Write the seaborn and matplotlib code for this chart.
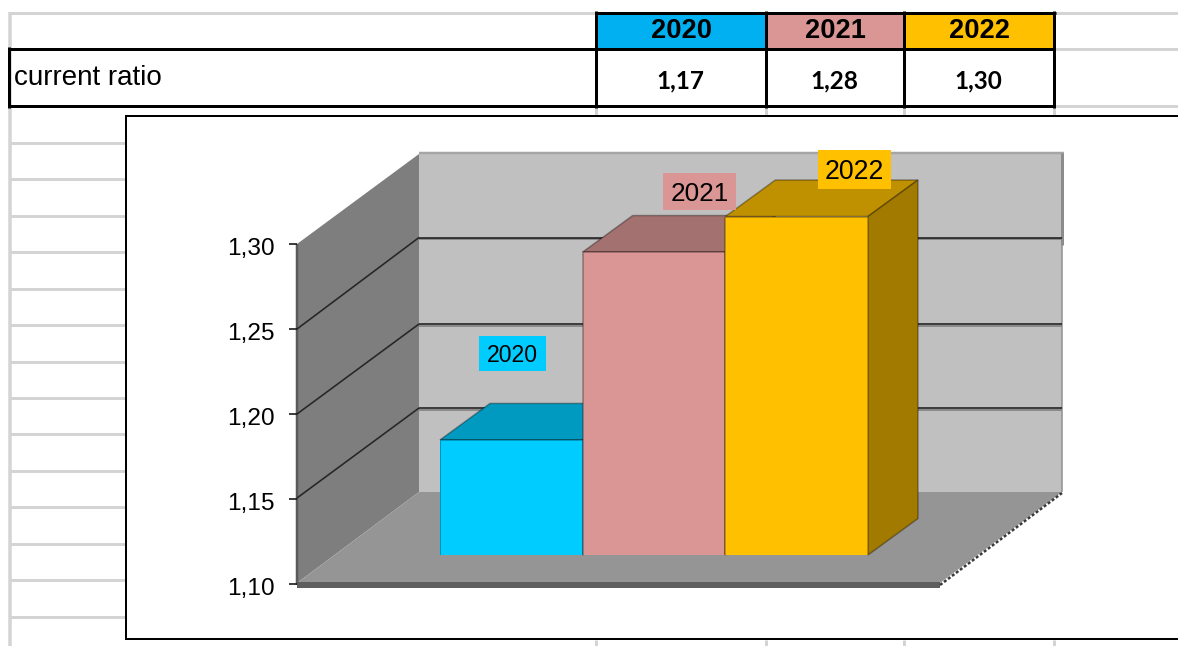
import matplotlib
matplotlib.use("Agg")
import matplotlib.pyplot as plt
import pandas as pd
import seaborn as sns
from matplotlib.patches import Polygon, Rectangle
from matplotlib.ticker import FuncFormatter
from matplotlib.transforms import ScaledTranslation

years = ["2020", "2021", "2022"]
ratios = [1.168, 1.279, 1.30]
row_label = "current ratio"
y_ticks = [1.10, 1.15, 1.20, 1.25, 1.30]
header_colors = ["#00B0F0", "#DA9694", "#FFC000"]
bar_colors = ["#00CCFF", "#D99694", "#FFC000"]
top_colors = ["#0099BF", "#A37170", "#BF9000"]
side_colors = ["#007A99", "#825A59", "#A27A00"]
tag_colors = ["#00CCFF", "#D99694", "#FFC000"]

W, H = 1178, 646
sns.set_theme(style="white")
plt.rcParams["font.family"] = ["Liberation Sans", "DejaVu Sans"]
fig = plt.figure(figsize=(W / 100, H / 100), dpi=100, facecolor="white")


def axes_px(x0, y0, x1, y1, **kw):
    """Axes from pixel box (top-left origin)."""
    return fig.add_axes([x0 / W, 1 - y1 / H, (x1 - x0) / W, (y1 - y0) / H], **kw)


def px(v):
    return v * 0.72


# ---------- background layer: sheet, table, chart frame, walls ----------
bg = axes_px(0, 0, W, H, zorder=0)
bg.set_xlim(0, W)
bg.set_ylim(H, 0)
bg.axis("off")
GRAY = "#D4D4D4"


def line(xs, ys, c, w, **kw):
    bg.plot(xs, ys, color=c, lw=px(w), solid_capstyle="butt", **kw)


line([9.5, 9.5], [12, H], GRAY, 3.5)
line([9, W], [12.5, 12.5], GRAY, 3)
for y in (48.5, 106):
    line([1054, W], [y, y], GRAY, 3)
for y in [143, 179, 216, 252, 289, 325, 362, 398, 434, 471, 507, 544, 580, 617]:
    line([9, 126], [y, y], GRAY, 3)
for x in (596, 766, 904, 1054):
    line([x, x], [106, 116], GRAY, 3)
    line([x, x], [640, H], GRAY, 3)

# table
col_x = [596, 766, 904, 1054]
for i, year in enumerate(years):
    bg.add_patch(Rectangle((col_x[i], 12.5), col_x[i + 1] - col_x[i], 36,
                           facecolor=header_colors[i], edgecolor="none"))
BK = "#000000"
line([8, 1055], [48.5, 48.5], BK, 3)
line([8, 1055], [106, 106], BK, 3)
line([596, 1055.5], [12.5, 12.5], BK, 3)
line([8.5, 8.5], [47, 107.5], BK, 3)
for x in col_x:
    line([x, x], [11, 107.5], BK, 3)
bg.text(14.5, 78, row_label, fontsize=20, color="black", ha="left", va="center")
for i, year in enumerate(years):
    cx = (col_x[i] + col_x[i + 1]) / 2
    bg.text(cx, 30.5, year, fontsize=19.6, fontweight="bold", color="black",
            ha="center", va="center")
    bg.text(cx - 0.5, 81, f"{ratios[i]:.2f}".replace(".", ","), fontsize=17.5,
            fontweight="bold", family=["Lato", "DejaVu Sans"], color="black",
            ha="center", va="center")

# chart frame
bg.add_patch(Rectangle((126, 116), W - 126 + 5, 523, facecolor="white",
                       edgecolor="black", lw=px(2), zorder=2))

# walls
z = 3
bg.add_patch(Polygon([(419, 154), (1062, 154), (1062, 492), (419, 492)],
                     facecolor="#C0C0C0", edgecolor="none", zorder=z))
bg.add_patch(Polygon([(297, 244), (419, 154), (419, 492), (297, 583)],
                     facecolor="#7E7E7E", edgecolor="none", zorder=z))
bg.add_patch(Polygon([(297, 583), (419, 492), (1062, 492), (940, 583)],
                     facecolor="#959595", edgecolor="none", zorder=z))
bg.add_patch(Rectangle((297, 582), 643, 5.5, facecolor="#5F5F5F", edgecolor="none", zorder=z))
line([419, 1064], [153, 153], "#A6A6A6", 2.5, zorder=z)
line([1062, 1062], [153, 245], "#8C8C8C", 3, zorder=z)
line([1062, 1062], [245, 492], "#8F8F8F", 1.5, zorder=z)
line([940, 1062], [585, 493], "#3A3A3A", 2.5, zorder=z, linestyle=(0, (1.2, 0.8)))
line([297, 297], [244, 585], "#5A5A5A", 2.5, zorder=z)

# wall gridlines, following the depth of the chart box
for y_front, y_back in zip([329, 414, 498], [237.5, 324, 408]):
    line([297, 419], [y_front, y_back], "#262626", 1.6, zorder=z + 0.1)
    line([419, 1062], [y_back + 1.5, y_back + 1.5], "#8A8A8A", 2, zorder=z + 0.1)
    line([419, 1062], [y_back, y_back], "#1E1E1E", 1.6, zorder=z + 0.2)

# ---------- value axis ----------
ax_val = axes_px(297, 243.7, 300, 583.7, zorder=1)
ax_val.patch.set_alpha(0)
ax_val.set_ylim(1.10, 1.30)
ax_val.set_yticks(y_ticks)
ax_val.set_xticks([])
ax_val.yaxis.set_major_formatter(FuncFormatter(lambda v, _: f"{v:.2f}".replace(".", ",")))
ax_val.tick_params(axis="y", left=True, length=px(8), width=px(1.6), color="#111111",
                   pad=px(14), labelsize=17.6, labelcolor="black")
for s in ax_val.spines.values():
    s.set_visible(False)
shift = ScaledTranslation(0, -3 / 100, fig.dpi_scale_trans)
for lab in ax_val.get_yticklabels():
    lab.set_transform(lab.get_transform() + shift)

# ---------- bars ----------
ax_bar = axes_px(440, 216.5, 868, 555, zorder=2)
ax_bar.patch.set_alpha(0)
df = pd.DataFrame({"year": years, "ratio": ratios})
sns.barplot(data=df, x="year", y="ratio", hue="year", order=years, hue_order=years,
            palette=bar_colors, saturation=1, width=1, legend=False, ax=ax_bar,
            edgecolor="#00000055", linewidth=px(1.5), zorder=5)
ax_bar.set_xlim(-0.5, 2.5)
ax_bar.set_ylim(1.10, 1.30)
ax_bar.axis("off")

# depth of each bar, derived from the bar itself
dx = 50 / (428 / 3)
dy = 36.5 / (338.5 / 0.2)
base = 1.10
for i, patch in enumerate(ax_bar.patches[:3]):
    x0 = patch.get_x()
    x1 = x0 + patch.get_width()
    top = patch.get_height()
    edge = "#00000055"
    ax_bar.add_patch(Polygon([(x0, top), (x1, top), (x1 + dx, top + dy), (x0 + dx, top + dy)],
                             facecolor=top_colors[i], edgecolor=edge, lw=px(1.5),
                             clip_on=False, zorder=1 + i))
    ax_bar.add_patch(Polygon([(x1, base), (x1 + dx, base + dy), (x1 + dx, top + dy), (x1, top)],
                             facecolor=side_colors[i], edgecolor=edge, lw=px(1.5),
                             clip_on=False, zorder=1 + i))

# ---------- data tags ----------
tags = axes_px(0, 0, W, H, zorder=3)
tags.set_xlim(0, W)
tags.set_ylim(H, 0)
tags.axis("off")
tag_boxes = [(479, 336, 546, 371), (663, 173, 736, 210), (818, 150, 891, 189)]
tag_sizes = [16.6, 18.8, 19.2]
for i, (x0, y0, x1, y1) in enumerate(tag_boxes):
    tags.add_patch(Rectangle((x0, y0), x1 - x0, y1 - y0, facecolor=tag_colors[i], edgecolor="none"))
    tags.text((x0 + x1) / 2, (y0 + y1) / 2 + 2.5, years[i], fontsize=tag_sizes[i], color="black",
              ha="center", va="center")

fig.savefig("out.png", dpi=100, facecolor="white")
